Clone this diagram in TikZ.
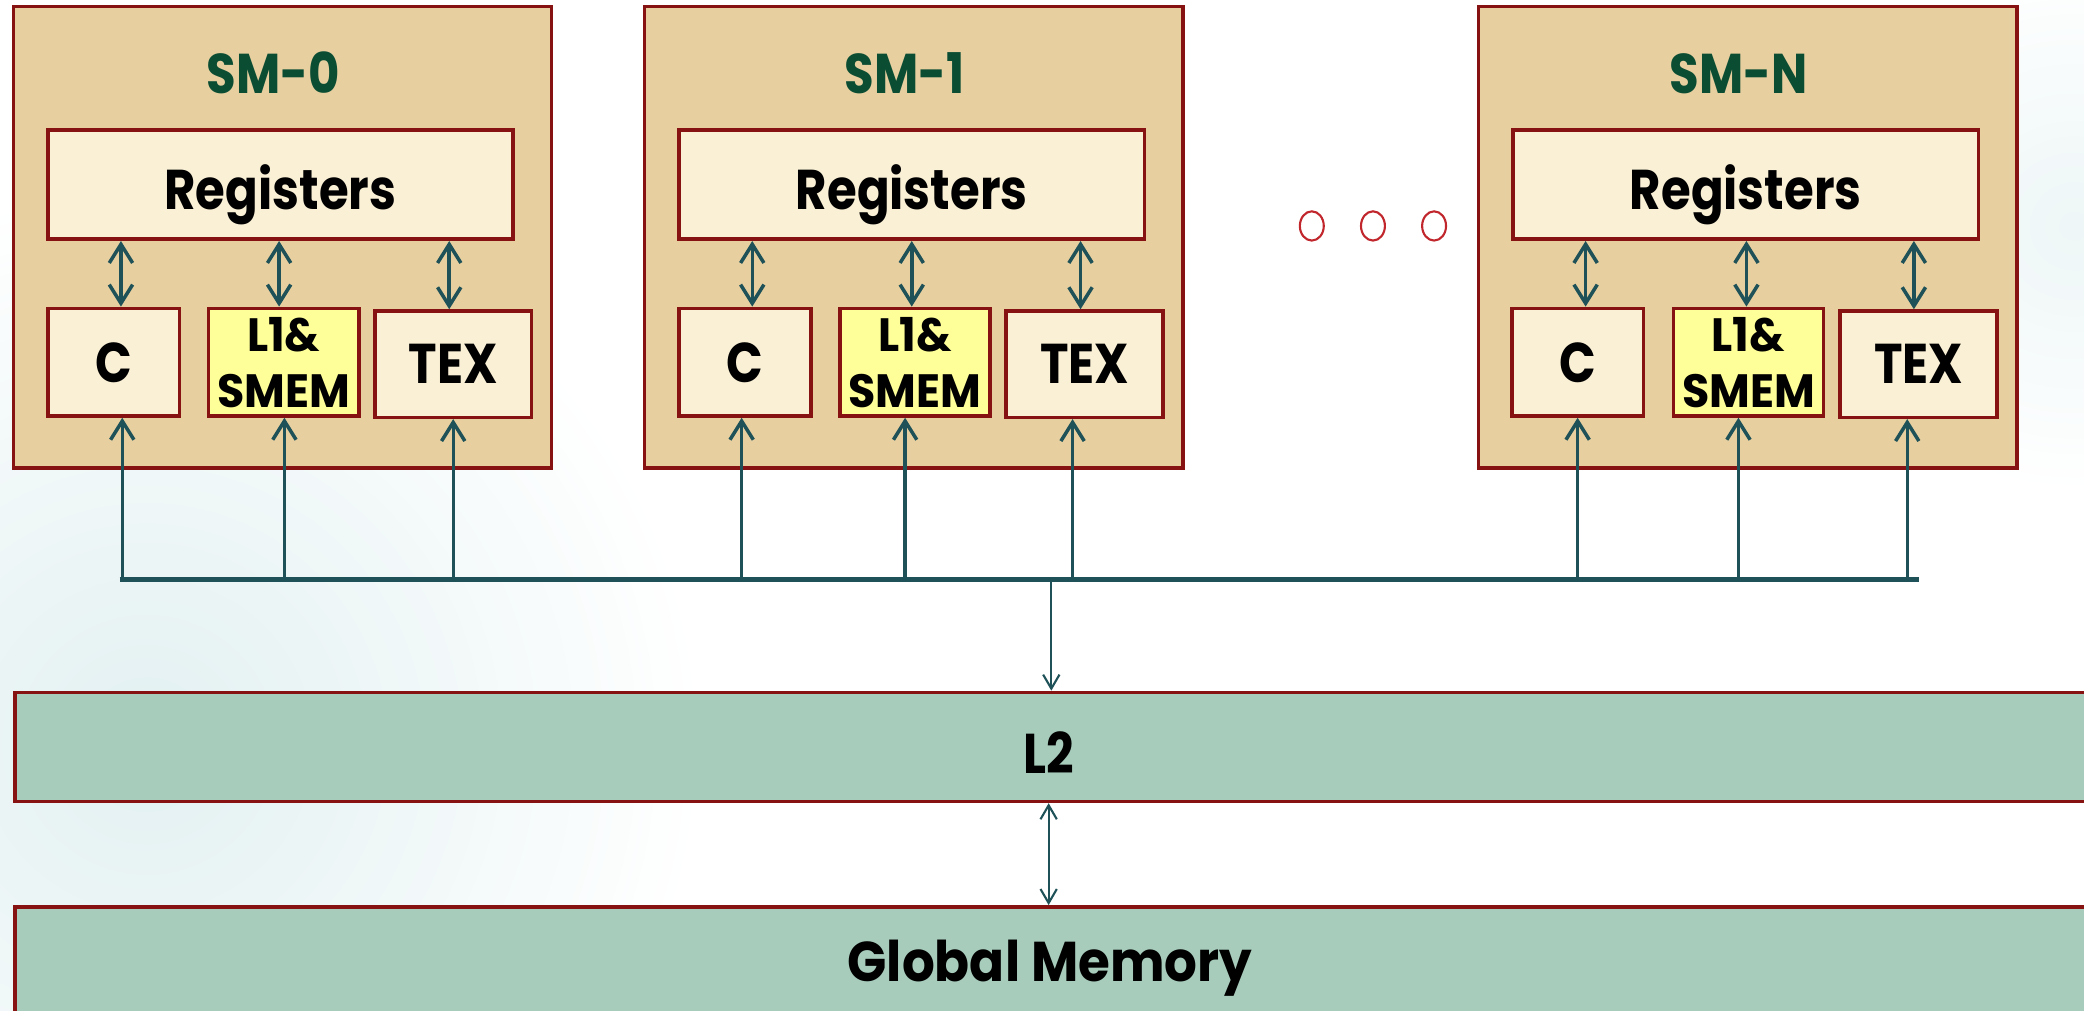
\documentclass[tikz,border=0pt]{standalone}
\usepackage{fontspec}
\setmainfont{Poppins}[FakeStretch=0.86]
\newfontfamily\lonefont{Poppins}[FakeStretch=0.95]
\newfontfamily\gmfont{Poppins}[FakeStretch=0.92]
\usetikzlibrary{arrows.meta,calc,shapes.geometric}
\definecolor{tan}{HTML}{E8CFA0}
\definecolor{bordred}{HTML}{861212}
\definecolor{cream}{HTML}{FAF0D6}
\definecolor{lyellow}{HTML}{FFFF99}
\definecolor{teal}{HTML}{1E5258}
\definecolor{titlegreen}{HTML}{0A4D33}
\definecolor{mint}{HTML}{A7CCBC}
\definecolor{dotred}{HTML}{C0262B}
\definecolor{haze}{HTML}{E2F0F1}
\begin{document}
\begin{tikzpicture}[x=0.02cm,y=-0.02cm,
  dims/.style 2 args={minimum width=#1*0.02cm, minimum height=#2*0.02cm, inner sep=0pt},
  smbox/.style={draw=bordred, line width=1.5pt, fill=tan},
  regbox/.style={draw=bordred, line width=1.5pt, fill=cream, text depth=0pt, font=\bfseries\fontsize{24}{28}\selectfont},
  l1box/.style={draw=bordred, line width=1.5pt, fill=lyellow, align=center, font=\lonefont\bfseries\fontsize{20}{24}\selectfont},
  membox/.style={draw=bordred, line width=1.5pt, fill=mint},
  memtext/.style={text depth=0pt, inner sep=0pt, font=\bfseries\fontsize{24}{28}\selectfont},
  title/.style={text=titlegreen, text depth=0pt, inner sep=0pt, font=\bfseries\fontsize{24}{28}\selectfont},
  barb/.tip={Straight Barb[length=8pt,width=10pt,line width=1.5pt]},
  sbarb/.tip={Straight Barb[length=6pt,width=7pt,line width=0.9pt]},
  darr/.style={draw=teal, line width=1.5pt, barb-barb},
  uarr/.style={draw=teal, line width=1.4pt, -barb},
  thinarr/.style={draw=teal, line width=0.9pt},
  busline/.style={draw=teal, line width=2pt},
  dot/.style={draw=dotred, line width=0.9pt, ellipse, minimum width=18*0.02cm, minimum height=22*0.02cm, inner sep=0pt}
]
\clip (0,0) rectangle (1568,760);
\fill[white] (0,0) rectangle (1568,760);
\shade[inner color=haze, outer color=white] (110,560) circle (420);
\shade[inner color=haze!60, outer color=white] (1560,170) circle (200);

\foreach \n/\t/\cx/\rx/\ccx/\lx/\tx/\da/\db/\dc/\ua/\ub/\uc in {
  0/SM-0/212.5/211/85.5/213.5/341/91/210/338/92/214/341,
  1/SM-1/687.5/686/560.5/688.5/816/566/686/813/558/681/807,
  N/SM-N/1315/1313.5/1187/1315.5/1443.5/1193/1314/1440/1187/1308/1435}{
  \node[smbox, dims={405}{347}] (sm\n) at (\cx,178.5) {};
  \node[title] (sm\n title) at (\cx-7,55) {\t};
  \node[regbox, dims={350}{82}] (sm\n reg) at (\rx,139) {};
  \node[memtext] (sm\n regt) at (\rx,141) {Registers};
  \node[regbox, dims={99}{81}] (sm\n c) at (\ccx,272.5) {C};
  \node[l1box, dims={113}{81}] (sm\n l1) at (\lx,272.5) {L1\&\\SMEM};
  \node[regbox, dims={118}{80}] (sm\n tex) at (\tx,274) {TEX};
  \draw[darr] (sm\n reg.south -| \da,0) -- (sm\n c.north -| \da,0);
  \draw[darr] (sm\n reg.south -| \db,0) -- (sm\n l1.north -| \db,0);
  \draw[darr] (sm\n reg.south -| \dc,0) -- (sm\n tex.north -| \dc,0);
  \coordinate (bus\n a) at (\ua,436);
  \coordinate (bus\n b) at (\ub,436);
  \coordinate (bus\n c) at (\uc,436);
  \draw[uarr] (bus\n a) -- (bus\n a |- sm\n c.south);
  \draw[uarr] (bus\n b) -- (bus\n b |- sm\n l1.south);
  \draw[uarr] (bus\n c) -- (bus\n c |- sm\n tex.south);
}

\coordinate (busL) at (90,436);
\coordinate (busR) at (1444,436);
\coordinate (busM) at (791,436);
\draw[busline] (busL) -- (busR);

\node[membox, dims={1600}{82}, anchor=west] (l2) at (10,562) {};
\node[memtext] (l2t) at (789,566) {L2};
\node[membox, dims={1600}{120}, anchor=north west] (gm) at (10,681) {};
\node[memtext, font=\gmfont\bfseries\fontsize{24}{28}\selectfont] (gmt) at (790,723) {Global Memory};

\draw[thinarr, -sbarb] (busM) -- (busM |- l2.north);
\draw[thinarr, sbarb-sbarb] (l2.south -| 789,0) -- (gm.north -| 789,0);

\node[dot] (d1) at (987,170) {};
\node[dot] (d2) at (1033,170) {};
\node[dot] (d3) at (1079,170) {};
\end{tikzpicture}
\end{document}
